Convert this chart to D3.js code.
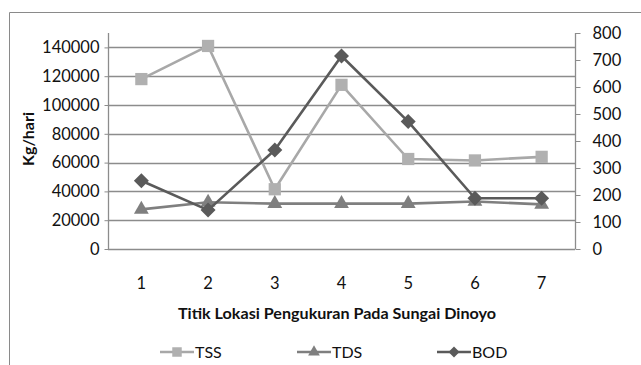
<!DOCTYPE html>
<html><head><meta charset="utf-8">
<script src="https://cdn.jsdelivr.net/npm/d3@7"></script>
<style>
html,body{margin:0;padding:0;background:#fff;}
svg{display:block;font-family:Lato,"Open Sans",sans-serif;}
</style></head>
<body><svg id="c" width="641" height="365"></svg>
<script>
const categories = ["1","2","3","4","5","6","7"];
const tss = [118000, 141000, 41500, 114000, 62500, 61500, 64000];
const tds = [27500, 32500, 31500, 31500, 31500, 33000, 31000];
const bod = [253, 144, 367, 715, 472, 188, 188];
const leftTicks = [0,20000,40000,60000,80000,100000,120000,140000];
const rightTicks = [0,100,200,300,400,500,600,700,800];
const seriesNames = ["TSS","TDS","BOD"];

const svg = d3.select("#c");
const L = 108, R = 575, T = 33, B = 249;

// outer border
svg.append("path").attr("d","M9.5,366 L9.5,12.5 L642,12.5").attr("fill","none").attr("stroke","#8a8a8a").attr("stroke-width",1);

const x = d3.scaleBand().domain(categories).range([L,R]);
const yL = d3.scaleLinear().domain([0,150000]).range([B,T]);
const yR = d3.scaleLinear().domain([0,800]).range([B,T]);

// gridlines
svg.append("g").selectAll("line").data(leftTicks.filter(d=>d>0)).join("line")
  .attr("x1",L).attr("x2",R).attr("y1",d=>Math.round(yL(d))+0.5).attr("y2",d=>Math.round(yL(d))+0.5)
  .attr("stroke","#8c8c8c").attr("stroke-width",1.3);

// left axis
const gl = svg.append("g").attr("transform",`translate(${L+0.5},0)`)
  .call(d3.axisLeft(yL).tickValues(leftTicks).tickSize(4).tickSizeOuter(0).tickPadding(5).tickFormat(d3.format("d")));
// right axis
const gr = svg.append("g").attr("transform",`translate(${R+0.5},0)`)
  .call(d3.axisRight(yR).tickValues(rightTicks).tickSize(5).tickSizeOuter(0).tickPadding(12).tickFormat(d3.format("d")));
[gl,gr].forEach(g=>{
  g.select(".domain").attr("stroke","#8c8c8c").attr("stroke-width",1.3);
  g.selectAll(".tick line").attr("stroke","#8c8c8c");
  g.selectAll("text").attr("font-size",16.5).attr("fill","#111").attr("font-family","Lato");
});
gl.select(".domain").attr("d",`M0,${T}V${B}`);
gr.select(".domain").attr("d",`M0,${T}V${B}`);

// x axis line
svg.append("line").attr("x1",L).attr("x2",R).attr("y1",B+0.5).attr("y2",B+0.5).attr("stroke","#8c8c8c").attr("stroke-width",1.3);
// x labels
svg.append("g").selectAll("text").data(categories).join("text")
  .attr("x",d=>x(d)+x.bandwidth()/2).attr("y",289).attr("text-anchor","middle")
  .attr("font-size",16.5).attr("fill","#111").text(d=>d);

// titles
svg.append("text").attr("x",337).attr("y",319).attr("text-anchor","middle")
  .attr("font-size",15.5).attr("font-weight","bold").attr("fill","#111")
  .attr("textLength",318).attr("lengthAdjust","spacingAndGlyphs")
  .text("Titik Lokasi Pengukuran Pada Sungai Dinoyo");
svg.append("text").attr("transform","translate(34,139) rotate(-90)").attr("text-anchor","middle")
  .attr("font-size",16).attr("font-weight","bold").attr("fill","#111").text("Kg/hari");

const cx = d => x(d)+x.bandwidth()/2;
const diamond = (r)=>`M0,${-r}L${r},0L0,${r}L${-r},0Z`;
const series = [
  {name:seriesNames[0], vals:tss, y:yL, color:"#a8a8a8", mcolor:"#b0b0b0", path:d3.symbol(d3.symbolSquare,150)(), lpath:d3.symbol(d3.symbolSquare,90)()},
  {name:seriesNames[1], vals:tds, y:yL, color:"#7f7f7f", mcolor:"#7f7f7f", path:d3.symbol(d3.symbolTriangle,95)(), lpath:d3.symbol(d3.symbolTriangle,60)()},
  {name:seriesNames[2], vals:bod, y:yR, color:"#5a5a5a", mcolor:"#5a5a5a", path:diamond(7.5), lpath:diamond(5.5)}
];
const line = (s)=>d3.line().x((d,i)=>cx(categories[i])).y(d=>s.y(d));
series.forEach(s=>{
  svg.append("path").datum(s.vals).attr("d",line(s)).attr("fill","none")
    .attr("stroke",s.color).attr("stroke-width",2.6).attr("stroke-linejoin","round");
  svg.append("g").selectAll("path").data(s.vals).join("path")
    .attr("transform",(d,i)=>`translate(${cx(categories[i])},${s.y(d)})`)
    .attr("d",s.path).attr("fill",s.mcolor);
});

// legend
const legX = [160, 297, 437];
series.forEach((s,i)=>{
  const g = svg.append("g").attr("transform",`translate(${legX[i]},352)`);
  g.append("line").attr("x1",0).attr("x2",34).attr("stroke",s.color).attr("stroke-width",2.6);
  g.append("path").attr("transform","translate(17,0)").attr("d",s.lpath).attr("fill",s.mcolor);
  g.append("text").attr("x",35).attr("y",6).attr("font-size",16).attr("fill","#111").text(s.name);
});
</script></body></html>
